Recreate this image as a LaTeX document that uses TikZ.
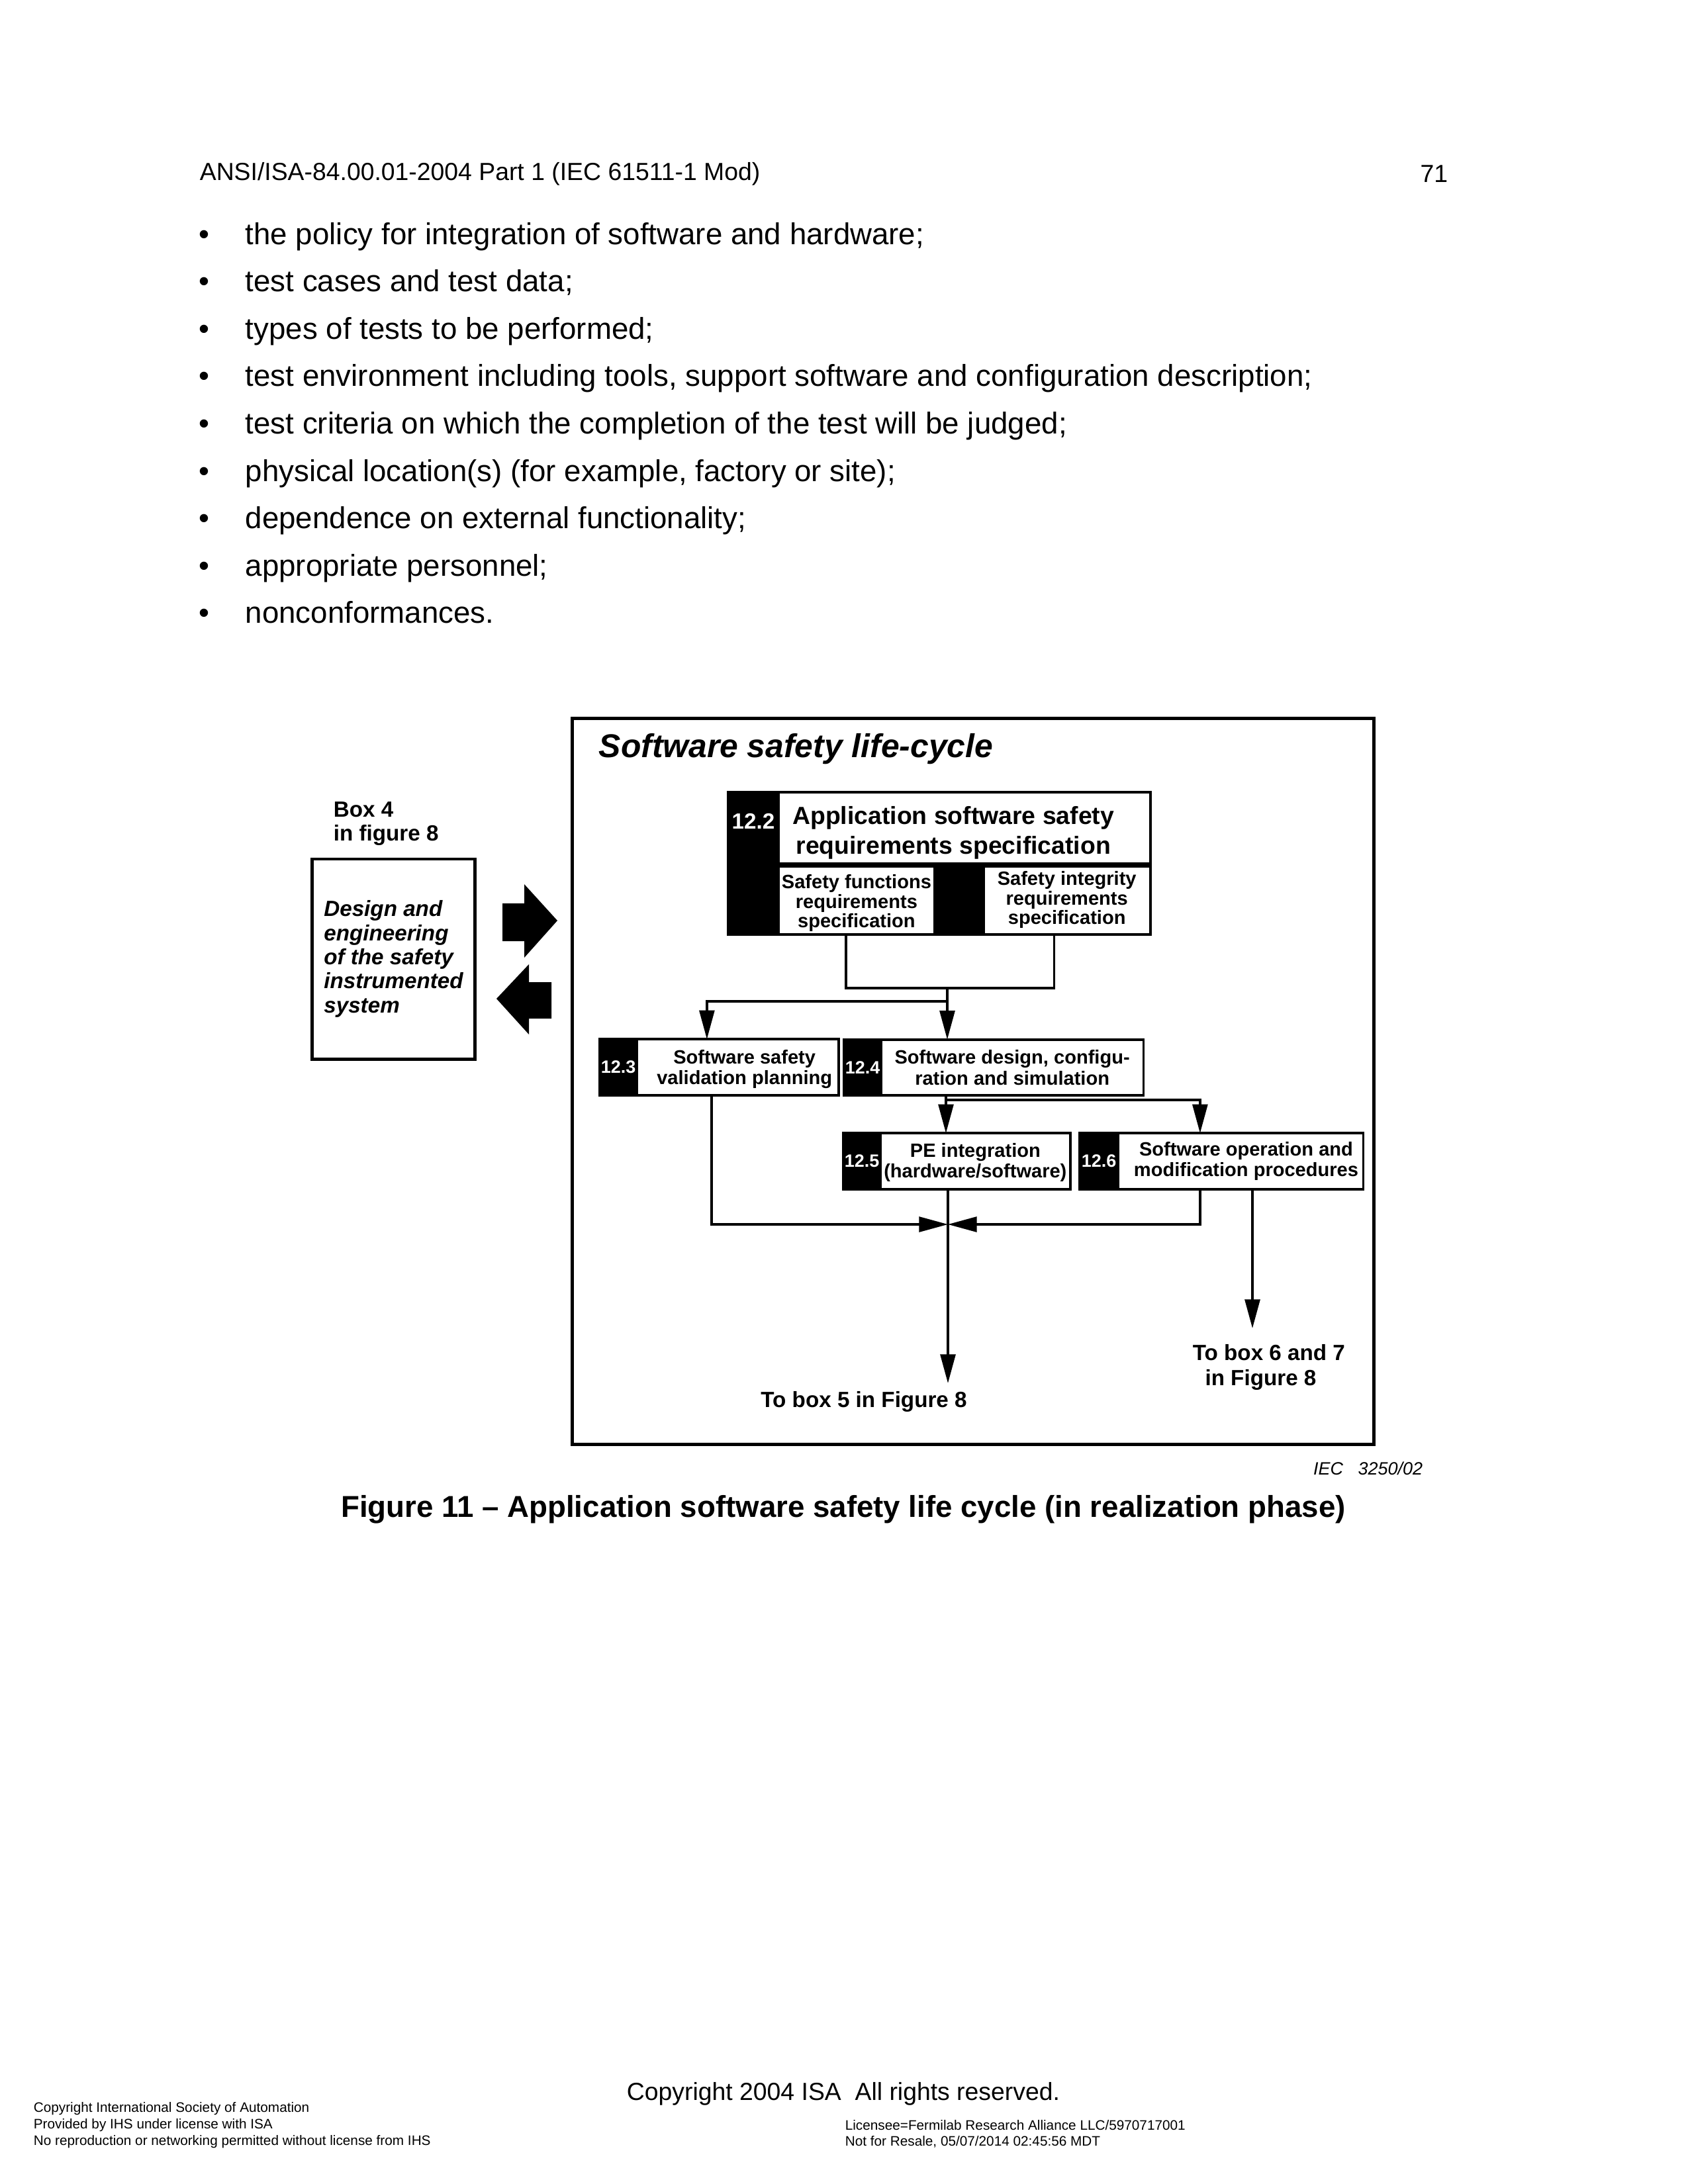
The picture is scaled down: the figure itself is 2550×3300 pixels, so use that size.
\documentclass[tikz,border=0pt]{standalone}
\usepackage{fontspec}
\setmainfont{Liberation Sans}
\usetikzlibrary{positioning,calc,arrows.meta}

\begin{document}
\begin{tikzpicture}[x=0.0846667mm, y=-0.0846667mm,
  page/.style={anchor=base west, inner sep=0pt, font=\fontsize{11}{13}\selectfont},
  small/.style={anchor=west, inner sep=0pt, font=\fontsize{5}{6}\selectfont},
  stage/.style={draw, line width=0.9pt, fill=white, inner sep=0pt, outer sep=0pt,
    align=center, minimum height=20.4pt, font=\bfseries\fontsize{7}{7.6}\selectfont},
  tab/.style={draw, fill=black, line width=0.9pt, text=white, inner sep=0pt, outer sep=0pt,
    minimum height=20.4pt, font=\bfseries\fontsize{6.5}{7}\selectfont},
  link/.style={line width=0.8pt},
  flow/.style={link, -{Triangle[length=10.5pt,width=5.5pt]}},
  note/.style={inner sep=0pt, align=center, font=\bfseries\fontsize{8}{9}\selectfont}]
  \useasboundingbox[fill=white] (0,0) rectangle (2550,3300);

  \node[anchor=west, inner sep=0pt, font=\fontsize{9}{11}\selectfont] (header) at (301,263) {ANSI/ISA-84.00.01-2004 Part 1 (IEC 61511-1 Mod)};
  \node[anchor=east, inner sep=0pt, font=\fontsize{9}{11}\selectfont] (pageno) at (2188,263) {71};
  \foreach \entry [count=\i] in {{the policy for integration of software and hardware;},
      {test cases and test data;}, {types of tests to be performed;},
      {test environment including tools, support software and configuration description;},
      {test criteria on which the completion of the test will be judged;},
      {physical location(s) (for example, factory or site);},
      {dependence on external functionality;}, {appropriate personnel;}, {nonconformances.}}{
    \node[page] (bul\i) at (300,{369+71.6*(\i-1)}) {\textbullet};
    \node[page] (txt\i) at (370,{369+71.6*(\i-1)}) {\entry};
  }

  \node[draw, line width=1.2pt, minimum width=291.84pt, minimum height=264.48pt] (frame) at (1470,1634) {};
  \node[anchor=west, inner sep=0pt, font=\bfseries\itshape\fontsize{12}{14}\selectfont] (title) at (904,1132) {Software safety life-cycle};

  \node[note, anchor=north west, align=left, font=\bfseries\fontsize{8}{8.6}\selectfont] (box4) at (503,1211) {Box 4\\in figure 8};
  \node[draw, line width=1pt, minimum width=59.28pt, minimum height=72.96pt, align=left, inner sep=0pt,
    font=\bfseries\itshape\fontsize{8}{8.76}\selectfont] (design) at (594.5,1449) {Design and\\engineering\\of the safety\\instrumented\\system};
  \fill (759,1365) -- (792,1365) -- (792,1336) -- (842,1391) -- (792,1447) -- (792,1422) -- (759,1422) -- cycle;
  \fill (833,1484) -- (799,1484) -- (799,1457) -- (750,1509) -- (799,1563) -- (799,1539) -- (833,1539) -- cycle;

  \node[tab, minimum width=18.24pt, minimum height=26.4pt, font=\bfseries\fontsize{8}{8.5}\selectfont] (t122) at (1138,1252) {\raisebox{5.4pt}{12.2}};
  \node[stage, right=0pt of t122, minimum width=135.36pt, minimum height=26.4pt,
    font=\bfseries\fontsize{9}{10.7}\selectfont] (s122) {\rule{0pt}{9.6pt}Application software safety\hspace*{8pt}\\requirements specification\hspace*{8pt}};
  \node[tab, minimum width=18.24pt, minimum height=25.2pt] (t122a) at (1138,1359.5) {};
  \node[stage, right=0pt of t122a, minimum width=56.88pt, minimum height=25.2pt,
    font=\bfseries\fontsize{7}{7.2}\selectfont] (sfun) {\rule{0pt}{7.5pt}Safety functions\\requirements\\specification};
  \node[tab, right=0pt of sfun, minimum width=17.76pt, minimum height=25.2pt] (t122b) {};
  \node[stage, right=0pt of t122b, minimum width=60.72pt, minimum height=25.2pt,
    font=\bfseries\fontsize{7}{7.2}\selectfont] (sint) {Safety integrity\\requirements\\specification};
  \draw[line width=2pt] (s122.south west) -- (s122.south east);

  \node[tab, minimum width=13.44pt] (t123) at (934,1612.5) {12.3};
  \node[stage, right=0pt of t123, minimum width=73.44pt] (s123) {\rule{0pt}{6.5pt}\hspace*{5pt}Software safety\\\hspace*{5pt}validation planning};
  \node[tab, minimum width=13.44pt] (t124) at (1303,1613) {12.4};
  \node[stage, right=0pt of t124, minimum width=95.52pt] (s124) {Software design, configu-\\ration and simulation};
  \node[tab, minimum width=13.44pt] (t125) at (1302,1754.5) {12.5};
  \node[stage, right=0pt of t125, minimum width=69.12pt] (s125) {\rule{0pt}{6pt}PE integration\\(hardware/software)};
  \node[tab, minimum width=13.92pt] (t126) at (1660,1754.5) {12.6};
  \node[stage, right=0pt of t126, minimum width=89.28pt] (s126) {\hspace*{4pt}Software operation and\\\hspace*{4pt}modification procedures};

  \coordinate (join) at (1431,1493);
  \coordinate (fork) at (1431,1513);
  \coordinate (fork2) at (1429,1662);
  \coordinate (merge) at (1432,1850);
  \coordinate (end5) at (1432,2090);
  \coordinate (end67) at (1892,2007);
  \draw[link] ($(sfun.south west)+(102,0)$) |- (join) -| ($(sint.south west)+(107,0)$);
  \draw[link] (join) -- (fork);
  \draw[flow] (fork) -| ($(s123.north west)+(106,0)$);
  \draw[flow] (fork) -- (fork |- s124.north);
  \draw[link] (fork2 |- s124.south) -- (fork2);
  \draw[flow] (fork2) -- (fork2 |- s125.north);
  \draw[flow] (fork2) -| ($(s126.north west)+(124,0)$);
  \draw[flow] ($(s123.south west)+(113,0)$) |- (merge);
  \draw[flow] ($(s126.south west)+(124,0)$) |- (merge);
  \draw[flow] (merge |- s125.south) -- (end5);
  \draw[flow] (end67 |- s126.south) -- (end67);
  \node[note] (tobox5) at (1305,2118) {To box 5 in Figure 8};
  \node[note, align=left, anchor=west] (tobox67) at (1801,2066) {To box 6 and 7\\\hspace*{4.5pt}in Figure 8};

  \node[anchor=east, inner sep=0pt, font=\itshape\fontsize{6.5}{8}\selectfont] (iec) at (2150,2219) {IEC\ \ \ 3250/02};
  \node[inner sep=0pt, font=\bfseries\fontsize{11}{13}\selectfont] (caption) at (1274,2281) {Figure 11 -- Application software safety life cycle (in realization phase)};

  \node[inner sep=0pt, font=\fontsize{9}{11}\selectfont] (copyright) at (1274,3164) {Copyright 2004 ISA\ \ All rights reserved.};
  \node[small] (isa) at (50,3186) {Copyright International Society of Automation};
  \node[small] (ihs) at (50,3211) {Provided by IHS under license with ISA};
  \node[small] (norepro) at (50,3236) {No reproduction or networking permitted without license from IHS};
  \node[small] (licensee) at (1276,3211) {Licensee=Fermilab Research Alliance LLC/5970717001};
  \node[small] (resale) at (1276,3236) {Not for Resale, 05/07/2014 02:45:56 MDT};
\end{tikzpicture}
\end{document}
